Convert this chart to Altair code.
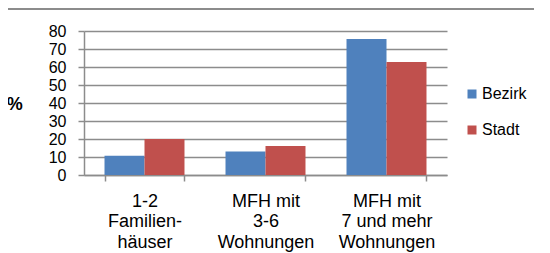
import altair as alt
import pandas as pd

categories = ["1-2|Familien-|häuser", "MFH mit|3-6|Wohnungen", "MFH mit|7 und mehr|Wohnungen"]
series = ["Bezirk", "Stadt"]
bezirk = [10.7, 13.1, 75.5]
stadt = [20.0, 16.1, 62.8]
colors = ["#4F81BD", "#C0504D"]

rows = []
for c, b, s in zip(categories, bezirk, stadt):
    rows.append({"cat": c, "serie": "Bezirk", "val": b})
    rows.append({"cat": c, "serie": "Stadt", "val": s})
df = pd.DataFrame(rows)

FONT = "Liberation Sans"
GRID = "#8c8c8c"

bars = alt.Chart(df).mark_bar().encode(
    x=alt.X("cat:N", sort=categories,
            scale=alt.Scale(paddingInner=0.339, paddingOuter=0.1695),
            axis=alt.Axis(title=None, labelAngle=0, tickBand="extent", grid=False,
                          labelExpr="datum.value == null ? '' : split(datum.value, '|')",
                          labelFontSize=18,
                          labelLineHeight=20.5, labelPadding=11, tickSize=6,
                          domainColor=GRID, tickColor=GRID, labelColor="black",
                          labelFont=FONT, domainWidth=1.5, tickWidth=1.5)),
    xOffset=alt.XOffset("serie:N", sort=series, scale=alt.Scale(paddingInner=0, paddingOuter=0)),
    y=alt.Y("val:Q", scale=alt.Scale(domain=[0, 80], nice=False),
            axis=alt.Axis(title="%", titleAngle=0, titleFontSize=18, titleFontWeight="bold",
                          titleFont=FONT, titleColor="black", titlePadding=34,
                          titleBaseline="middle", titleY=73,
                          values=list(range(0, 81, 10)), labelFontSize=16, labelFont=FONT,
                          labelColor="black", labelPadding=12, tickSize=6,
                          grid=True, gridColor=GRID, gridWidth=1.5,
                          domainColor=GRID, tickColor=GRID, domainWidth=1.5, tickWidth=1.5)),
    color=alt.Color("serie:N", sort=series,
                    scale=alt.Scale(domain=series, range=colors),
                    legend=alt.Legend(title=None, orient="none", legendX=380, legendY=55,
                                      symbolType="square", symbolSize=81, symbolStrokeWidth=0,
                                      labelFontSize=16, labelFont=FONT, labelColor="black",
                                      rowPadding=20, labelOffset=2)),
)

topline = alt.Chart(pd.DataFrame({"a": [0]})).mark_rule(color="#8c8c8c", strokeWidth=2).encode(
    x=alt.value(-76), x2=alt.value(450), y=alt.value(-22)
)

chart = alt.layer(bars, topline).properties(
    width=363, height=144,
    autosize=alt.AutoSizeParams(type="none"),
    padding={"left": 76, "top": 23, "right": 87, "bottom": 80},
).configure_view(strokeWidth=0)

chart.save("out.html", embed_options={"renderer": "svg", "actions": False})
